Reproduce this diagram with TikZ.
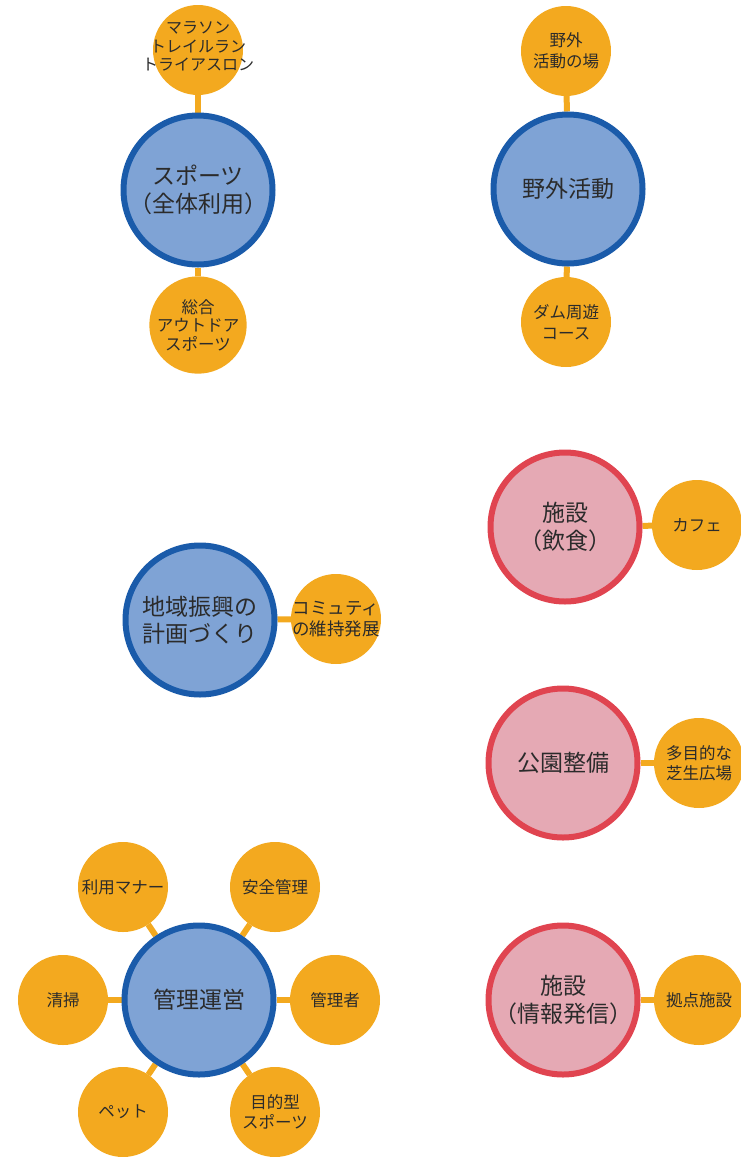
\documentclass[tikz,border=0pt]{standalone}
\usepackage{fontspec}
\setmainfont{Noto Sans CJK JP}
\definecolor{orng}{HTML}{F3A91F}
\definecolor{bfill}{HTML}{7FA3D5}
\definecolor{bstroke}{HTML}{1A5BAA}
\definecolor{rfill}{HTML}{E5A9B4}
\definecolor{rstroke}{HTML}{E04450}
\definecolor{txt}{HTML}{2B2B2B}
\pgfdeclarelayer{bg}
\pgfsetlayers{bg,main}
\newcommand{\zl}[1]{\makebox[0pt]{#1}}
\begin{document}
\begin{tikzpicture}[x=1pt,y=-1pt,
  hub/.style={circle,minimum size=149pt,inner sep=0pt,line width=6pt,align=center,
    font=\fontsize{23}{27.5}\selectfont,text=txt},
  bluehub/.style={hub,draw=bstroke,fill=bfill},
  redhub/.style={hub,draw=rstroke,fill=rfill},
  leaf/.style={circle,minimum size=90pt,inner sep=0pt,outer sep=0pt,fill=orng,align=center,
    font=\fontsize{16.5}{20.5}\selectfont,text=txt},
  link/.style={draw=orng,line width=6pt}]
\useasboundingbox (0,0) rectangle (741,1157);

% Sports
\node[bluehub] (sp) at (198,190) {スポーツ\\（全体利用）};
\node[leaf,font=\fontsize{16}{18.5}\selectfont] (sp1) at (198,50) {\zl{マラソン}\\\zl{トレイルラン}\\\zl{トライアスロン}\\[-11pt]};
\node[leaf,font=\fontsize{16.5}{18.5}\selectfont] (sp2) at (198,325) {総合\\アウトドア\\スポーツ};

% Outdoor
\node[bluehub] (od) at (568,189) {野外活動};
\node[leaf] (od1) at (566,51) {野外\\活動の場};
\node[leaf] (od2) at (566,322) {ダム周遊\\コース};

% Regional
\node[bluehub] (rg) at (200,620) {地域振興の\\計画づくり};
\node[leaf,font=\fontsize{17.5}{21.5}\selectfont] (rg1) at (336,619) {\zl{コミュティ}\\\zl{の維持発展}};

% Facility food
\node[redhub] (ff) at (565,527) {施設\\（飲食）};
\node[leaf] (ff1) at (697,525) {カフェ};

% Park
\node[redhub] (pk) at (563,763) {公園整備};
\node[leaf] (pk1) at (699,763) {多目的な\\芝生広場};

% Facility info
\node[redhub] (fi) at (563,1000) {施設\\（情報発信）};
\node[leaf] (fi1) at (699,1000) {拠点施設};

% Management
\node[bluehub] (mg) at (199,1000) {管理運営};
\node[leaf] (mg1) at (123,887) {利用マナー};
\node[leaf] (mg2) at (275,887) {安全管理};
\node[leaf] (mg3) at (63,1000) {清掃};
\node[leaf] (mg4) at (335,1000) {管理者};
\node[leaf] (mg5) at (123,1112) {ペット};
\node[leaf] (mg6) at (275,1112) {目的型\\スポーツ};

\begin{pgfonlayer}{bg}
\draw[link] (sp) -- (sp1);
\draw[link] (sp) -- (sp2);
\draw[link] (od) -- (od1);
\draw[link] (od) -- (od2);
\draw[link] (rg) -- (rg1);
\draw[link] (ff) -- (ff1);
\draw[link] (pk) -- (pk1);
\draw[link] (fi) -- (fi1);
\foreach \k in {1,...,6} {\draw[link] (mg) -- (mg\k);}
\end{pgfonlayer}
\end{tikzpicture}
\end{document}
